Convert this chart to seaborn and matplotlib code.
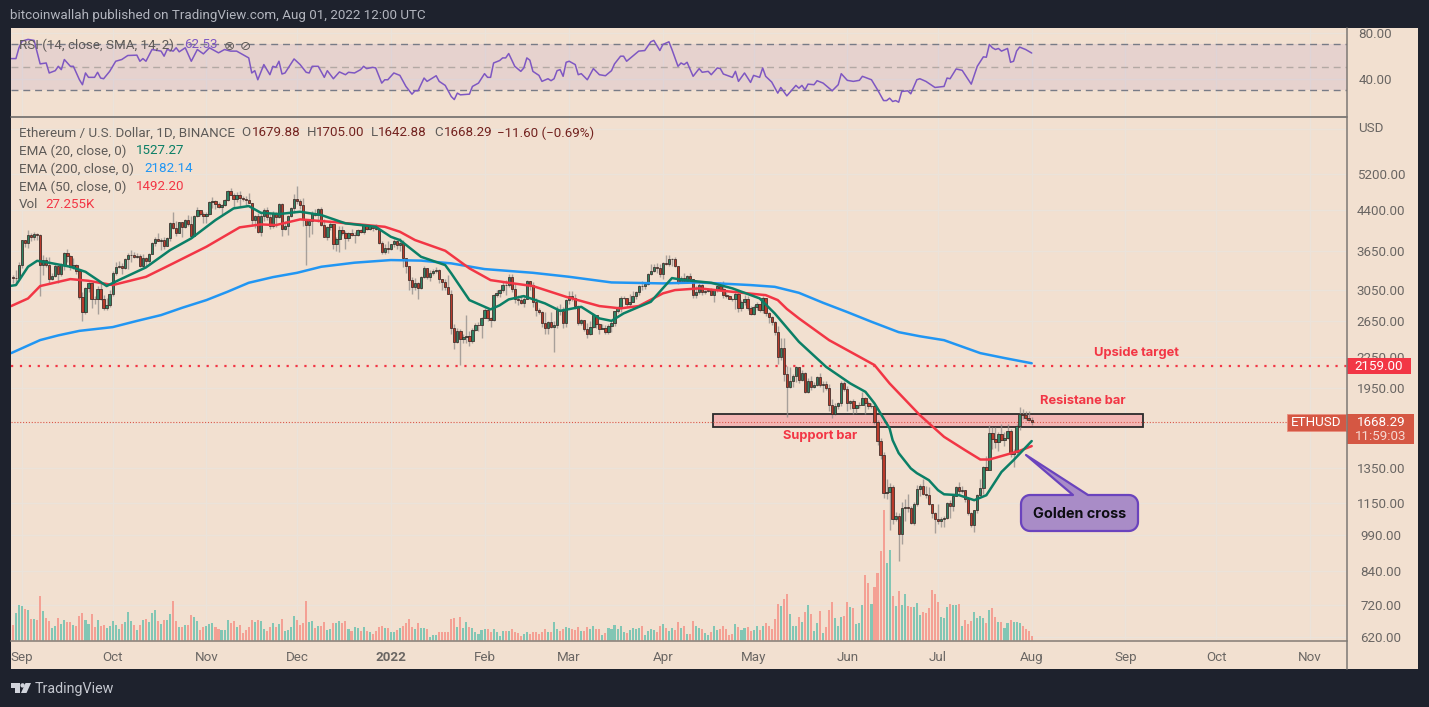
import numpy as np
import pandas as pd
import matplotlib
matplotlib.use("Agg")
import matplotlib.pyplot as plt
from matplotlib.patches import Polygon, Rectangle
import seaborn as sns

# ---------- data ----------
first_open = 3245
close = [
 3225,3228,3430,
 3834,3788,3937,3887,3950,3927,3429,3497,3426,3207,3263,3407,3285,3429,3612,3570,3397,3432,3329,2958,2763,3077,3154,2928,2925,3062,2926,2807,2849,3000,
 3307,3390,3417,3380,3518,3586,3587,3560,3577,3415,3542,3490,3604,3790,3868,3830,3848,3745,3878,4160,4058,3970,4170,4082,4220,4130,3922,4285,4417,4322,4288,
 4325,4584,4603,4530,4476,4520,4612,4808,4730,4630,4725,4665,4645,4622,4557,4210,4288,3980,4298,4410,4268,4089,4340,4270,4522,4035,4095,4295,4444,4630,
 4585,4510,4225,4120,4197,4350,4310,4430,4110,3890,4075,4130,3780,3860,4020,3965,3880,3960,3925,3940,4020,3980,4110,4045,4095,4065,4035,3795,3630,3710,3680,
 3765,3830,3760,3785,3540,3410,3195,3100,3155,3080,3238,3375,3245,3308,3330,3350,3212,3165,3095,3000,2560,2405,2535,2440,2460,2470,2420,2545,2600,2600,2688,
 2790,2690,2660,2990,3010,3050,3130,3120,3240,3075,2930,2915,2880,2930,3185,3125,2885,2785,2760,2620,2570,2640,2580,2600,2780,2775,2620,2920,
 2975,2950,2835,2620,2665,2550,2495,2575,2725,2610,2555,2570,2515,2590,2620,2770,2815,2945,2950,2860,2895,2970,3030,3110,3105,3145,3285,3330,3400,3385,3280,
 3455,3445,3520,3520,3410,3170,3230,3190,3260,3210,2980,3030,3120,3020,3040,3060,2990,3060,3105,3075,2985,2965,2935,2925,3005,2810,2890,2935,2815,2730,
 2825,2860,2780,2940,2750,2700,2640,2520,2245,2345,2080,1960,2010,2055,2145,2025,2090,1915,2015,1960,1975,2045,1975,1980,1945,1805,1725,1790,1815,1995,1940,
 1815,1835,1775,1800,1805,1860,1815,1790,1790,1665,1530,1435,1205,1210,1235,1068,1085,995,1125,1127,1125,1050,1142,1226,1243,1198,1193,1145,1098,1067,
 1060,1067,1074,1150,1134,1187,1238,1215,1217,1168,1097,1037,1113,1191,1233,1355,1339,1582,1543,1522,1576,1535,1552,1599,1438,1451,1636,1725,1722,1697,1680,
 1668.29]
high = [
 3265,3350,3470,
 3845,3840,4027,3975,3980,3970,3950,3580,3550,3555,3305,3460,3430,3450,3640,3680,3585,3535,3440,3330,3025,3100,3175,3160,2970,3110,3160,2980,2940,3050,
 3340,3470,3490,3455,3545,3620,3670,3630,3625,3600,3600,3550,3620,3815,3895,3970,3885,3900,3900,4180,4375,4190,4175,4175,4230,4300,4290,4300,4460,4395,4370,
 4370,4600,4670,4610,4565,4530,4640,4825,4868,4770,4785,4810,4705,4700,4770,4555,4300,4345,4345,4450,4465,4320,4380,4375,4550,4550,4190,4315,4460,4750,
 4920,4640,4650,4240,4235,4380,4430,4450,4480,4230,4090,4190,4130,3890,4090,4100,4000,3990,4050,3980,4050,4050,4140,4125,4115,4110,4130,4040,3830,3770,3820,
 3775,3860,3850,3880,3850,3465,3410,3240,3220,3170,3250,3415,3375,3345,3365,3390,3365,3210,3210,3265,3050,2615,2560,2550,2500,2725,2530,2560,2630,2640,2700,
 2810,2810,2700,3000,3055,3070,3190,3195,3285,3285,3140,2985,2980,2970,3200,3190,3165,2950,2810,2775,2760,2655,2760,2650,2835,2860,2830,2925,
 3040,3035,3000,2850,2670,2665,2630,2650,2750,2710,2630,2615,2600,2610,2650,2770,2840,2970,2965,2950,2995,3040,3040,3130,3190,3150,3300,3440,3445,3450,3440,
 3470,3580,3580,3545,3550,3410,3250,3300,3265,3305,3210,3105,3150,3135,3060,3080,3080,3060,3125,3170,3180,3030,2980,2950,3025,3035,2920,2980,2975,2840,
 2850,2890,2870,2965,2950,2760,2710,2650,2590,2450,2450,2150,2145,2080,2155,2140,2115,2100,2040,2060,2000,2060,2085,2010,2015,1980,1850,1815,1825,2015,2015,
 1970,1840,1855,1805,1830,1915,1865,1835,1815,1810,1680,1545,1450,1280,1260,1250,1105,1100,1155,1170,1200,1135,1155,1250,1255,1280,1240,1235,1145,1105,
 1145,1080,1085,1155,1165,1195,1245,1265,1240,1220,1170,1105,1115,1200,1280,1360,1425,1640,1630,1625,1595,1650,1590,1650,1615,1470,1655,1785,1765,1750,1750,
 1705]
low = [
 3150,3160,3195,
 3380,3725,3710,3820,3835,3845,2975,3270,3400,3150,3200,3240,3160,3260,3345,3480,3355,3370,3280,2925,2650,2730,3030,2810,2860,2740,2920,2780,2790,2825,
 2970,3270,3375,3280,3370,3360,3480,3530,3540,3400,3390,3410,3430,3600,3745,3820,3675,3680,3735,3830,4040,3920,3960,3890,4060,4105,3900,3910,4260,4290,4145,
 4150,4315,4455,4425,4445,4330,4500,4600,4715,4470,4580,4500,4600,4510,4555,4095,4060,3960,3910,4200,4220,4050,4060,4080,4250,3920,4030,3930,4275,4340,
 4530,4420,4100,3420,3890,3950,4280,4180,4100,3890,3840,4030,3680,3660,3640,3940,3680,3820,3910,3790,3920,3960,3950,4015,4020,4000,4030,3775,3610,3595,3625,
 3675,3720,3680,3660,3400,3300,3060,3000,3060,2930,3065,3230,3210,3190,3270,3300,3150,3050,3050,3000,2500,2330,2400,2160,2390,2400,2360,2390,2530,2530,2455,
 2680,2650,2580,2650,2960,2960,3020,2980,3090,3030,2880,2850,2860,2830,2930,3050,2830,2715,2730,2580,2495,2500,2570,2300,2570,2720,2565,2575,
 2860,2900,2800,2600,2600,2530,2450,2480,2570,2560,2500,2550,2500,2500,2520,2590,2750,2760,2930,2830,2820,2885,2930,2990,3060,3075,3120,3270,3320,3300,3240,
 3210,3430,3410,3405,3395,3135,3150,3170,3170,3190,2950,2950,3005,2990,3000,3020,2985,2890,3030,3040,2950,2940,2925,2900,2800,2760,2775,2850,2780,2725,
 2720,2780,2760,2750,2710,2630,2600,2490,2170,2220,2010,1704,1950,1955,2000,1995,2015,1905,1900,1930,1945,1970,1960,1915,1930,1750,1700,1720,1770,1795,1920,
 1750,1770,1725,1740,1780,1800,1725,1765,1780,1650,1500,1405,1175,1170,1015,1045,1060,880,950,1060,1105,1045,1040,1135,1185,1190,1175,1140,1075,1000,
 1045,1030,1030,1070,1075,1110,1185,1195,1205,1155,1090,1030,1005,1100,1185,1195,1335,1340,1470,1480,1460,1525,1490,1540,1420,1355,1430,1610,1690,1680,1675,
 1643]
volume = [
 48,84,108,105,96,93,66,66,63,135,90,69,60,39,45,69,51,63,57,57,48,45,75,84,63,51,81,42,63,45,
 48,39,45,60,48,36,51,57,87,60,48,33,48,63,66,57,84,93,60,51,63,63,81,120,60,42,42,48,48,78,
 72,60,33,42,45,51,54,42,36,33,33,63,54,60,42,48,24,33,42,63,57,63,60,36,30,42,54,42,51,66,
 30,33,42,75,63,48,54,
 120,57,60,39,45,45,57,33,36,54,54,60,54,60,36,30,42,39,30,42,30,27,21,30,42,45,39,39,27,27,
 33,39,45,54,66,42,36,54,39,39,36,12,18,18,27,27,27,27,66,69,42,72,39,57,42,39,27,21,33,36,
 36,27,36,27,15,
 30,30,30,37,27,24,15,21,27,21,27,27,21,27,36,27,27,57,36,30,36,42,39,36,33,42,30,30,42,36,
 45,36,36,18,24,39,36,48,36,45,27,24,33,39,36,39,45,18,30,36,33,27,45,51,39,30,39,33,57,39,
 45,21,21,60,45,39,36,24,18,27,45,33,36,45,36,18,
 20,51,42,33,39,42,30,33,45,33,45,54,45,36,66,111,105,126,142,81,45,45,72,57,87,108,81,30,54,90,
 24,42,93,117,69,45,72,75,117,102,99,51,54,108,198,173,112,162,204,270,393,234,273,
 135,105,150,108,141,105,102,102,114,78,87,84,99,154,141,117,72,69,102,111,109,108,112,45,63,51,60,87,69,75,
 69,54,93,99,72,57,57,39,54,63,57,57,54,45,36,30,15]

ema200_day = [-3.6,6,12,19,30,38,46,53,61,68,75,83,91,99,110,122,132,142,153,169,181,195,212,224,241,249,257,265,273,281,290,297,305,311,317,325,334]
ema200 = [2286,2427,2480,2532,2576,2650,2722,2815,2916,3030,3157,3240,3305,3398,3462,3504,3495,3451,3362,3305,3245,3162,3148,3162,3124,3099,3015,2880,2760,2640,2517,2470,2426,2355,2286,2235,2182]
ema50_day = [-3.6,2,6,16,22,30,41,50,61,72,79,84,92,102,120,125,130,140,148,155,161,169,180,191,198,204,212,216,224,235,246,250,253,257,267,274,282,287,297,305,312,317,320,325,330,334]
ema50 = [2837,2938,3110,3211,3186,3124,3245,3451,3725,4071,4127,4114,4223,4177,4082,3990,3841,3657,3373,3196,3157,3110,2960,2837,2807,2837,3007,3053,3077,3029,2983,2916,2800,2681,2426,2300,2164,1989,1720,1557,1464,1403,1403,1431,1460,1492]
ema20_day = [-3.6,-2,2,5,9,16,21,28,32,41,49,56,64,70,75,79,85,92,99,107,117,122,125,132,140,142,148,155,158,161,166,173,178,185,191,195,199,208,215,219,228,235,244,249,257,266,274,279,282,287,288,290,294,296,300,303,305,310,315,319,324,328,334]
ema20 = [3114,3124,3398,3492,3461,3398,3320,3110,3196,3388,3668,3871,4210,4442,4490,4353,4328,4374,4308,4147,4082,3899,3841,3557,3424,3296,2916,2794,2847,2925,2970,2872,2776,2827,2681,2651,2743,2893,3226,3196,3157,3077,2939,2743,2408,2146,1989,1914,1815,1618,1533,1445,1347,1318,1276,1219,1196,1191,1164,1191,1325,1399,1527]

rsi_day = [-4,-2,-1,0,2,4,6,8,9,11,12,13,14,16,17,19,20,21,22,24,25,26,27,29,31,33,35,38,39,40,41,43,46,47,48,50,51,52,54,56,58,60,62,65,67,69,71,75,76,77,78,80,82,83,84,85,86,87,90,92,94,95,96,98,100,101,103,105,107,108,110,
 112,113,114,116,117,119,120,121,123,125,127,129,130,131,133,134,137,138,140,142,143,144,145,148,149,151,153,154,155,156,158,159,160,161,163,165,166,167,168,169,171,172,174,175,176,177,178,179,180,181,183,184,185,187,189,191,193,195,196,198,199,200,204,206,208,209,211,212,214,215,217,218,219,220,222,224,225,
 227,228,230,231,232,235,236,237,239,241,242,244,245,246,248,250,251,253,256,257,258,259,260,262,263,265,268,270,271,273,275,277,278,281,283,285,286,287,288,289,290,291,293,294,296,297,299,302,305,306,307,309,311,314,316,318,319,320,321,322,323,324,326,327,328,329,330,332,334]
rsi = [57.7,57.7,67.1,72.9,74.4,73.5,53.1,53.9,45.2,47.2,51,48.1,56.9,51,51,39.3,35,45.2,41.4,41.4,45.8,40.8,40.2,46.6,55.4,56.9,60.4,60.7,55.4,57.7,55.4,65.6,64.2,59.8,65.6,64.2,67.1,63.6,67.1,55.4,65.6,61.8,67.1,62.7,65.6,64.2,64.2,58.3,45.2,47.2,39.3,52.5,43.7,51,50.1,55.4,44.3,45.2,57.4,52.5,45.8,45.2,51,51,41.4,47.2,40.2,46.1,43.7,45.8,45.2,
 48.1,51,49,50.1,49.6,36.4,39.3,39.3,45.2,43.1,33.5,26.8,29.7,29.7,40.8,37.9,42.8,37.9,34.4,24.7,22.1,27.7,26.2,26.8,33.5,36.4,44.6,41.4,41.4,53.9,56,58.3,58.3,62.1,51,46.6,49.6,58.3,56.3,46.6,43.1,37.9,40.2,38.5,40.2,47.2,48.1,42.3,54.5,55.4,52.5,43.7,44.6,39.3,49,43.7,42.8,47.2,53.1,59.8,59.8,55.4,64.2,64.7,72.3,73.5,64.7,70,72.3,65.6,51,53.9,52.5,54.5,42.3,49,45.8,
 46.6,43.7,49.6,49,44.3,41.4,46.6,37.9,45.2,37,43.1,41.4,49.6,42.3,37.3,27.7,32.6,25.3,34.4,32,34.4,30.6,35.5,35,38.5,36.4,29.7,35,44.6,38.8,37.9,38.8,42.3,39.3,30.6,21.2,21.2,23.3,20.4,21.2,19.8,29.1,29.7,27.1,39.3,40.2,37.9,32.6,33.5,40.8,40.2,48.7,47.5,35.5,51,59.2,58.9,70,67.1,65.6,66.5,64.2,66.5,54.5,55.4,64.2,67.7,65.6,62.53]

price_ticks = [620,720,840,990,1150,1350,1650,1950,2250,2650,3050,3650,4400,5200,6400]
price_labels = ["620.00","720.00","840.00","990.00","1150.00","1350.00","","1950.00","2250.00","2650.00","3050.00","3650.00","4400.00","5200.00",""]
rsi_ticks = [40,80]
rsi_labels = ["40.00","80.00"]
month_labels = ["Sep","Oct","Nov","Dec","2022","Feb","Mar","Apr","May","Jun","Jul","Aug","Sep","Oct","Nov"]
month_starts = pd.date_range("2021-09-01", periods=15, freq="MS")
upside_target = 2159.0
last_price = 1668.29
zone_low, zone_high = 1627, 1727

# ---------- helpers ----------
W, H = 1429, 707
DARK = "#1e222d"; BG = "#f2e0d0"; GRID = "#ebe3da"; TXT = "#6a6663"; RED = "#f23645"
FS = 9.6

sns.set_theme(style="white")
plt.rcParams["font.family"] = ["Roboto", "DejaVu Sans"]

def box(l, t, r, b):
    return [l / W, 1 - b / H, (r - l) / W, (b - t) / H]

fig = plt.figure(figsize=(W / 100, H / 100), dpi=100, facecolor=DARK)

bg = fig.add_axes(box(11, 28, 1418, 669), zorder=0); bg.set_facecolor(BG)
bg.set_xticks([]); bg.set_yticks([])
for s in bg.spines.values(): s.set_visible(False)

day0 = pd.Timestamp("2021-09-01")
dates = pd.date_range("2021-08-29", periods=len(close))
days = np.array((dates - day0).days, dtype=float)
month_days = np.array((month_starts - day0).days, dtype=float)
x_lim = (-3.64, 438.3)

o = np.array([first_open] + close[:-1], dtype=float)
c = np.array(close, dtype=float)
hi = np.maximum(np.array(high, dtype=float), np.maximum(o, c))
lo = np.minimum(np.array(low, dtype=float), np.minimum(o, c))
up = c >= o

# ---------- RSI pane ----------
ar = fig.add_axes(box(11, 28, 1347, 116), zorder=2); ar.patch.set_alpha(0)
ar.set_xlim(*x_lim); ar.set_ylim(7.8, 84.3)
ar.axhspan(30, 70, color="#7e57c2", alpha=0.10, lw=0, zorder=1)
for lv, col in [(70, "#787b86"), (30, "#787b86"), (50, "#b3a9a4")]:
    ar.axhline(lv, color=col, lw=1, dashes=(5, 3.5), zorder=2)
sns.lineplot(x=rsi_day, y=rsi, ax=ar, color="#7e57c2", lw=1.1, zorder=3, estimator=None)
ar.set_xticks(month_days); ar.set_xticklabels([]); ar.set_yticks(rsi_ticks); ar.set_yticklabels(rsi_labels)
ar.yaxis.tick_right()
ar.tick_params(axis="both", length=0, labelsize=FS, labelcolor=TXT)
ar.tick_params(axis="y", pad=20.5)
for lb in ar.get_yticklabels(): lb.set_ha("center")
ar.grid(True, color=GRID, lw=1, zorder=0); ar.set_axisbelow(True)
ar.set_xlabel(""); ar.set_ylabel("")
for s in ar.spines.values(): s.set_visible(False)

# ---------- grid layer, then volume below the candles ----------
ag = fig.add_axes(box(11, 117, 1347, 641), zorder=1); ag.patch.set_alpha(0)
ag.set_yscale("log"); ag.set_xlim(*x_lim); ag.set_ylim(610, 6756)
ag.set_yticks(price_ticks); ag.set_yticklabels([]); ag.minorticks_off()
ag.set_xticks(month_days); ag.set_xticklabels([])
ag.tick_params(axis="both", length=0)
ag.grid(True, color=GRID, lw=1)
for s in ag.spines.values(): s.set_visible(False)

av = fig.add_axes(box(11, 117, 1347, 641), zorder=2); av.patch.set_alpha(0)
av.set_xlim(*x_lim); av.set_ylim(0, 1572)
v_cols = np.where(up, "#82c6b4", "#f4a094")
av.bar(days, volume, width=0.68, color=v_cols, lw=0)
av.set_xticks([]); av.set_yticks([])
for s in av.spines.values(): s.set_visible(False)

# ---------- price pane ----------
ax = fig.add_axes(box(11, 117, 1347, 641), zorder=3); ax.patch.set_alpha(0)
ax.set_yscale("log"); ax.set_xlim(*x_lim); ax.set_ylim(610, 6756)
ax.set_yticks(price_ticks); ax.set_yticklabels(price_labels)
ax.set_xticks(month_days); ax.set_xticklabels(month_labels)
ax.yaxis.tick_right()
ax.minorticks_off()
ax.tick_params(axis="both", length=0, labelsize=FS, labelcolor=TXT)
ax.tick_params(axis="y", pad=24.5); ax.tick_params(axis="x", pad=7)
for lb in ax.get_yticklabels(): lb.set_ha("center")
for lb in ax.get_xticklabels():
    if lb.get_text() == "2022": lb.set_fontweight("bold")
ax.grid(False)

ax.add_patch(Rectangle((228.6, zone_low), 142.2, zone_high - zone_low, fc="#f3b6b4", ec="#2a2a2a", lw=1.3, zorder=1.5))
ax.axhline(last_price, color="#d9574a", lw=0.8, ls=(0, (1, 1.6)), zorder=1.7)
ax.axhline(upside_target, color=RED, lw=1.6, ls=(0, (1, 3)), zorder=1.7)

ax.vlines(days, lo, hi, color="#8f8b88", lw=1.0, alpha=0.75, zorder=2)
body_bottom = np.minimum(o, c); body_h = np.maximum(np.abs(c - o), 1.5)
ax.bar(days, body_h, bottom=body_bottom, width=0.78, color=np.where(up, "#2f8264", "#b93a2b"),
       edgecolor="#3b2a26", lw=0.55, zorder=3)
sns.lineplot(x=ema200_day, y=ema200, ax=ax, color="#2196f3", lw=1.8, zorder=4, estimator=None)
sns.lineplot(x=ema50_day, y=ema50, ax=ax, color=RED, lw=1.8, zorder=4, estimator=None)
sns.lineplot(x=ema20_day, y=ema20, ax=ax, color="#0b7f66", lw=1.8, zorder=5, estimator=None)
ax.set_xlabel(""); ax.set_ylabel("")
for s in ax.spines.values(): s.set_visible(False)

# ---------- overlay in pixel units ----------
ov = fig.add_axes([0, 0, 1, 1], zorder=10); ov.patch.set_alpha(0)
ov.set_xlim(0, W); ov.set_ylim(H, 0); ov.axis("off")

def T(x, y, s, col=TXT, size=FS, weight="normal", ha="left", **k):
    return ov.text(x, y, s, color=col, fontsize=size, fontweight=weight, ha=ha, va="center", **k)

ov.plot([11, 1347], [116.5, 116.5], color="#6f6c6a", lw=1.2)
ov.plot([11, 1347], [641, 641], color="#948a82", lw=1.3)
ov.plot([1347, 1347], [28, 669], color="#7d7874", lw=1.1)

T(10, 16, "bitcoinwallah published on TradingView.com, Aug 01, 2022 12:00 UTC", "#b2b5be", FS)
T(19, 45, "RSI (14, close, SMA, 14, 2)", "#5f5b58", FS)
T(184, 45, "62.53", "#7e57c2", FS)
T(224, 46, "\u2297", "#5f5b58", 9.5, family="DejaVu Sans")
T(240, 46, "\u2298", "#5f5b58", 9.5, family="DejaVu Sans")

T(19, 133, "Ethereum / U.S. Dollar, 1D, BINANCE", "#5f5b58", FS)
D = "#74231f"
for x, s, col in [(241.5, "O", "#5f5b58"), (251.5, "1679.88", D), (306.5, "H", "#5f5b58"), (316, "1705.00", D),
                  (370.5, "L", "#5f5b58"), (378, "1642.88", D), (434, "C", "#5f5b58"), (444, "1668.29", D),
                  (497, "\u221211.60 (\u22120.69%)", D)]:
    T(x, 133, s, col, FS)
for y, lab, xv, val, col in [(151, "EMA (20, close, 0)", 136, "1527.27", "#0b7f66"),
                             (169, "EMA (200, close, 0)", 144, "2182.14", "#2196f3"),
                             (187, "EMA (50, close, 0)", 136, "1492.20", RED),
                             (205, "Vol", 45, "27.255K", RED)]:
    T(19, y, lab, "#5f5b58", FS); T(xv, y, val, col, FS)

T(1358, 129, "USD", TXT, FS)

T(1094, 353, "Upside target", RED, 9.3, "bold", family="Inter")
T(1040, 401, "Resistane bar", RED, 9.3, "bold", family="Inter")
T(783, 436, "Support bar", RED, 9.3, "bold", family="Inter")

ov.add_patch(Rectangle((1347, 358), 64, 16, fc=RED, ec="none"))
T(1379, 366, "2159.00", "white", FS, ha="center")
ov.add_patch(Rectangle((1287, 414), 59, 17, fc="#d55743", ec="#e98f7f", lw=0.6))
T(1316.5, 422.5, "ETHUSD", "white", FS, ha="center")
ov.add_patch(Rectangle((1347, 414), 67, 30, fc="#d55743", ec="none"))
T(1381, 422, "1668.29", "white", FS, ha="center")
T(1381, 436, "11:59:03", "#f6d9d2", FS, ha="center")

# callout
def rounded(l, t, r, b, rad):
    th = np.linspace(0, np.pi / 2, 8)
    pts = []
    pts += [(1073, t), (1026, 455), (1088, t)]
    pts += [(r - rad + rad * np.sin(a), t + rad - rad * np.cos(a)) for a in th]
    pts += [(r - rad + rad * np.cos(a), b - rad + rad * np.sin(a)) for a in th]
    pts += [(l + rad - rad * np.sin(a), b - rad + rad * np.cos(a)) for a in th]
    pts += [(l + rad - rad * np.cos(a), t + rad - rad * np.sin(a)) for a in th]
    return pts
ov.add_patch(Polygon(rounded(1021, 495, 1138, 531, 9), closed=True, fc="#a98cc7", ec="#6a43bd", lw=1.6, joinstyle="round"))
T(1080, 513.5, "Golden cross", "#0d0d12", 10.4, "bold", ha="center", family="Inter")

# TradingView mark
L = "#d1d4dc"
ov.add_patch(Polygon([(11, 683), (20, 683), (20, 693), (15.5, 693), (15.5, 687.5), (11, 687.5)], fc=L, ec="none"))
ov.add_patch(plt.Circle((22.6, 685.4), 2.2, fc=L, ec="none"))
ov.add_patch(Polygon([(25.5, 683), (31, 683), (26.5, 693), (21, 693)], fc=L, ec="none"))
T(35, 689, "TradingView", "#c4c7cf", 10.3)

fig.savefig("out.png", dpi=100, facecolor=DARK)
